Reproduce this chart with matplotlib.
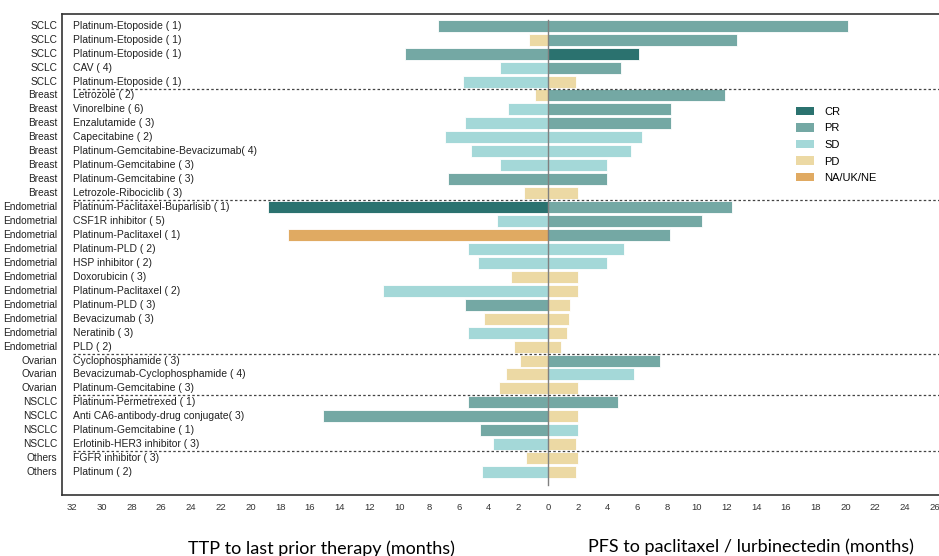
import numpy as np
import matplotlib
matplotlib.use("Agg")
import matplotlib.pyplot as plt
from matplotlib.patches import Patch

plt.rcParams['font.family'] = ['Liberation Sans', 'DejaVu Sans']

# tumour type and last prior regimen (number of prior lines)
cancer = ['SCLC'] * 5 + ['Breast'] * 8 + ['Endometrial'] * 11 + ['Ovarian'] * 3 + ['NSCLC'] * 4 + ['Others'] * 2
regimen = [
    'Platinum-Etoposide ( 1)', 'Platinum-Etoposide ( 1)', 'Platinum-Etoposide ( 1)', 'CAV ( 4)',
    'Platinum-Etoposide ( 1)',
    'Letrozole ( 2)', 'Vinorelbine ( 6)', 'Enzalutamide ( 3)', 'Capecitabine ( 2)',
    'Platinum-Gemcitabine-Bevacizumab( 4)', 'Platinum-Gemcitabine ( 3)', 'Platinum-Gemcitabine ( 3)',
    'Letrozole-Ribociclib ( 3)',
    'Platinum-Paclitaxel-Buparlisib ( 1)', 'CSF1R inhibitor ( 5)', 'Platinum-Paclitaxel ( 1)',
    'Platinum-PLD ( 2)', 'HSP inhibitor ( 2)', 'Doxorubicin ( 3)', 'Platinum-Paclitaxel ( 2)',
    'Platinum-PLD ( 3)', 'Bevacizumab ( 3)', 'Neratinib ( 3)', 'PLD ( 2)',
    'Cyclophosphamide ( 3)', 'Bevacizumab-Cyclophosphamide ( 4)', 'Platinum-Gemcitabine ( 3)',
    'Platinum-Permetrexed ( 1)', 'Anti CA6-antibody-drug conjugate( 3)', 'Platinum-Gemcitabine ( 1)',
    'Erlotinib-HER3 inhibitor ( 3)',
    'FGFR inhibitor ( 3)', 'Platinum ( 2)',
]

# TTP to last prior therapy (months) and best response
ttp = [7.4, 1.3, 9.6, 3.2, 5.7,
       0.9, 2.7, 5.6, 6.9, 5.2, 3.2, 6.7, 1.6,
       18.8, 3.4, 17.5, 5.4, 4.7, 2.5, 11.1, 5.6, 4.3, 5.4, 2.3,
       1.9, 2.8, 3.3,
       5.4, 15.1, 4.6, 3.7,
       1.5, 4.4]
ttp_resp = ['PR', 'PD', 'PR', 'SD', 'SD',
            'PD', 'SD', 'SD', 'SD', 'SD', 'SD', 'PR', 'PD',
            'CR', 'SD', 'NA/UK/NE', 'SD', 'SD', 'PD', 'SD', 'PR', 'PD', 'SD', 'PD',
            'PD', 'PD', 'PD',
            'PR', 'PR', 'PR', 'SD',
            'PD', 'SD']

# PFS to paclitaxel / lurbinectedin (months) and best response
pfs = [20.2, 12.7, 6.1, 4.9, 1.9,
       11.9, 8.3, 8.3, 6.3, 5.6, 4.0, 4.0, 2.0,
       12.35, 10.35, 8.2, 5.1, 4.0, 2.0, 2.0, 1.5, 1.4, 1.3, 0.9,
       7.5, 5.8, 2.0,
       4.7, 2.0, 2.0, 1.9,
       2.0, 1.9]
pfs_resp = ['PR', 'PR', 'CR', 'PR', 'PD',
            'PR', 'PR', 'PR', 'SD', 'SD', 'SD', 'PR', 'PD',
            'PR', 'PR', 'PR', 'SD', 'SD', 'PD', 'PD', 'PD', 'PD', 'PD', 'PD',
            'PR', 'SD', 'PD',
            'PR', 'PD', 'SD', 'PD',
            'PD', 'PD']

resp_order = ['CR', 'PR', 'SD', 'PD', 'NA/UK/NE']
colors = {'CR': '#2b726f', 'PR': '#74a8a4', 'SD': '#a4d8d8', 'PD': '#ecd9a4', 'NA/UK/NE': '#e0aa62'}

n = len(regimen)
y = np.arange(n)

fig = plt.figure(figsize=(9.39, 5.56), dpi=100)
ax = fig.add_axes([0.066, 0.1097, 0.934, 0.8646])

ax.barh(y, -np.array(ttp), height=0.86, color=[colors[r] for r in ttp_resp],
        edgecolor='white', linewidth=0.6, zorder=2)
ax.barh(y, pfs, height=0.86, color=[colors[r] for r in pfs_resp],
        edgecolor='white', linewidth=0.6, zorder=2)

# centre line
ax.plot([0, 0], [-0.4, n - 0.1], color='#808080', linewidth=1, zorder=3)

# group separators
for i in range(1, n):
    if cancer[i] != cancer[i - 1]:
        ax.plot([-31.9, 27], [i - 0.5, i - 0.5], color='#444444', linewidth=0.9,
                linestyle=(0, (2, 1.8)), zorder=4)

# regimen labels inside, tumour type outside
for i in range(n):
    ax.text(-31.9, i, regimen[i], fontsize=7.5, va='center', ha='left', color='#222222')
    ax.text(-0.005, i, cancer[i], fontsize=7.3, va='center', ha='right', color='#222222',
            transform=ax.get_yaxis_transform())

ax.set_xlim(-32.67, 26.29)
ax.set_ylim(33.64, -0.82)
ticks = np.arange(-32, 27, 2)
ax.set_xticks(ticks)
ax.set_xticklabels([str(abs(t)) for t in ticks], fontsize=6.8, color='#333333')
ax.tick_params(axis='x', length=0, pad=6)
ax.set_yticks([])
ax.spines['right'].set_visible(False)
for s in ['top', 'bottom', 'left']:
    ax.spines[s].set_color('#333333')
    ax.spines[s].set_linewidth(1.2)

handles = [Patch(facecolor=colors[r], label=r) for r in resp_order]
fig.legend(handles=handles, loc='upper left', bbox_to_anchor=(0.848, 0.808),
           frameon=False, fontsize=8, handlelength=1.6, handleheight=0.8,
           labelspacing=0.58, borderpad=0, borderaxespad=0, handletextpad=0.9)

fig.text(0.342, 0.004, 'TTP to last prior therapy (months)', fontsize=13,
         ha='center', family=['Lato', 'DejaVu Sans'])
fig.text(0.8, 0.008, 'PFS to paclitaxel / lurbinectedin (months)', fontsize=13,
         ha='center', family=['Lato', 'DejaVu Sans'])

fig.savefig('out.png', dpi=100)
